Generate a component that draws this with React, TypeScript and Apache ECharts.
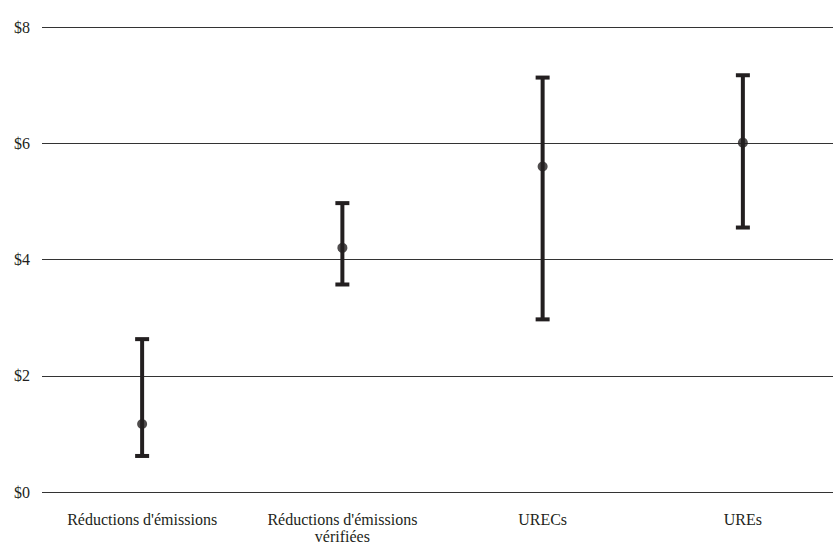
import React, { useEffect, useRef } from "react";
import * as echarts from "echarts";

const categories = [
  "Réductions d'émissions",
  "Réductions d'émissions\nvérifiées",
  "URECs",
  "UREs",
];
const lowValues = [0.62, 3.57, 2.97, 4.55];
const highValues = [2.63, 4.97, 7.13, 7.17];
const midValues = [1.17, 4.2, 5.6, 6.01];
const yTicks = { min: 0, max: 8, interval: 2 };

const INK = "#231f20";
const FONT = "Liberation Serif";

export default function App() {
  const ref = useRef<HTMLDivElement>(null);
  useEffect(() => {
    document.body.style.margin = "0";
    document.body.style.overflow = "hidden";
    document.documentElement.style.overflow = "hidden";
    if (!ref.current) return;
    const chart = echarts.init(ref.current, undefined, { renderer: "svg" });
    const rangeData = categories.map((_, i) => [i, lowValues[i], highValues[i]]);
    chart.setOption({
      animation: false,
      backgroundColor: "#ffffff",
      textStyle: { fontFamily: FONT },
      grid: { left: 42, right: 0, top: 27, bottom: 55, containLabel: false },
      xAxis: {
        type: "category",
        data: categories,
        boundaryGap: true,
        axisLine: { show: false },
        axisTick: { show: false },
        splitLine: { show: false },
        axisLabel: {
          color: "#231f20",
          fontFamily: FONT,
          fontSize: 16,
          lineHeight: 17,
          margin: 19,
          interval: 0,
        },
      },
      yAxis: {
        type: "value",
        min: yTicks.min,
        max: yTicks.max,
        interval: yTicks.interval,
        axisLine: { show: false },
        axisTick: { show: false },
        axisLabel: {
          color: "#231f20",
          fontFamily: FONT,
          fontSize: 16,
          margin: 12,
          formatter: (v: number) => "$" + v,
        },
        splitLine: { show: true, lineStyle: { color: "#333333", width: 1 } },
      },
      series: [
        {
          type: "custom",
          data: rangeData,
          z: 3,
          renderItem: (_params: any, api: any) => {
            const idx = api.value(0);
            const lo = api.coord([idx, api.value(1)]);
            const hi = api.coord([idx, api.value(2)]);
            const half = 7;
            const style = { stroke: INK, lineWidth: 4 };
            return {
              type: "group",
              children: [
                { type: "line", shape: { x1: lo[0], y1: lo[1], x2: hi[0], y2: hi[1] }, style },
                { type: "line", shape: { x1: lo[0] - half, y1: lo[1], x2: lo[0] + half, y2: lo[1] }, style },
                { type: "line", shape: { x1: hi[0] - half, y1: hi[1], x2: hi[0] + half, y2: hi[1] }, style },
              ],
            };
          },
        },
        {
          type: "scatter",
          data: midValues,
          symbol: "circle",
          symbolSize: 10,
          z: 4,
          itemStyle: { color: INK },
        },
      ],
    });
    return () => chart.dispose();
  }, []);
  return <div ref={ref} style={{ width: 843, height: 547 }} />;
}
